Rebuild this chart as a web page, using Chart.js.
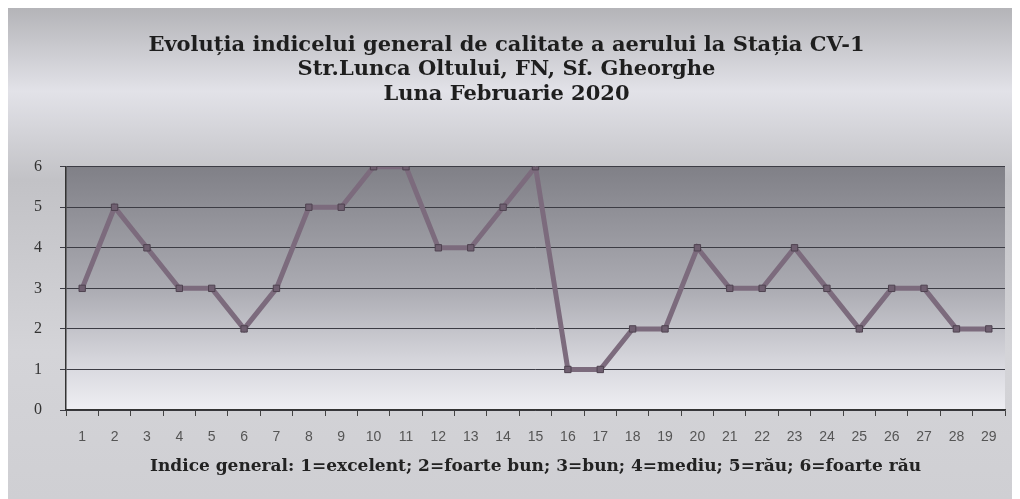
<!DOCTYPE html>
<html>
<head>
<meta charset="utf-8">
<script src="https://cdn.jsdelivr.net/npm/chart.js@4/dist/chart.umd.min.js"></script>
<style>
  body { margin: 0; background: #fff; }
  #wrap { width: 1020px; height: 499px; }
</style>
</head>
<body>
<div id="wrap"><canvas id="aerChart" width="1020" height="499"></canvas></div>
<script>
// Days of February 2020 and the general index
const days = ['1','2','3','4','5','6','7','8','9','10','11','12','13','14','15','16','17','18','19','20','21','22','23','24','25','26','27','28','29'];
const indexValues = [3, 5, 4, 3, 3, 2, 3, 5, 5, 6, 6, 4, 4, 5, 6, 1, 1, 2, 2, 4, 3, 3, 4, 3, 2, 3, 3, 2, 2];
const titleLines = [
    'Evoluția indicelui general de calitate a aerului la Stația CV-1',
    'Str.Lunca Oltului, FN, Sf. Gheorghe',
    'Luna Februarie 2020'
];
const axisTitle = 'Indice general: 1=excelent; 2=foarte bun; 3=bun; 4=mediu; 5=rău; 6=foarte rău';

// Gray gradients for the outer frame and the plot area (Excel style)
const backgroundPlugin = {
    id: 'bgGradients',
    beforeDraw(chart) {
        const { ctx, chartArea } = chart;
        ctx.save();
        const outer = ctx.createLinearGradient(0, 8, 0, 499);
        outer.addColorStop(0, '#b4b4b8');
        outer.addColorStop(0.17, '#e2e2e8');
        outer.addColorStop(0.35, '#c2c2c6');
        outer.addColorStop(0.7, '#d4d4d8');
        outer.addColorStop(1, '#cfcfd3');
        ctx.fillStyle = outer;
        ctx.fillRect(8, 8, 1004, 491);

        const inner = ctx.createLinearGradient(0, chartArea.top, 0, chartArea.bottom);
        inner.addColorStop(0, '#808087');
        inner.addColorStop(0.5, '#ababb2');
        inner.addColorStop(0.8, '#d6d6dc');
        inner.addColorStop(1, '#eeeef3');
        ctx.fillStyle = inner;
        ctx.fillRect(chartArea.left, chartArea.top, chartArea.right - chartArea.left, chartArea.bottom - chartArea.top);
        ctx.restore();
    }
};

const ctx = document.getElementById('aerChart').getContext('2d');

new Chart(ctx, {
    type: 'line',
    data: {
        labels: days,
        datasets: [{
            label: 'Indice general',
            data: indexValues,
            borderColor: '#7c6b7d',
            borderWidth: 5,
            pointStyle: 'rect',
            pointRadius: 4.5,
            pointBackgroundColor: '#6f5f70',
            pointBorderColor: '#4f4350',
            pointBorderWidth: 1,
            tension: 0
        }]
    },
    plugins: [backgroundPlugin],
    options: {
        responsive: false,
        animation: false,
        layout: {
            padding: { left: 8, right: 15, top: 8, bottom: 0 }
        },
        plugins: {
            legend: { display: false },
            tooltip: { enabled: false },
            title: {
                display: true,
                text: titleLines,
                color: '#1e1e1e',
                font: { family: 'DejaVu Serif', size: 21, weight: 'bold', lineHeight: 1.17 },
                padding: { top: 25, bottom: 60 }
            }
        },
        scales: {
            x: {
                offset: true,
                grid: {
                    drawOnChartArea: false,
                    drawTicks: true,
                    tickLength: 6,
                    color: '#444',
                    offset: true
                },
                border: { display: true, color: '#333', width: 1.5 },
                ticks: {
                    color: '#555',
                    padding: 13,
                    maxRotation: 0,
                    autoSkip: false,
                    font: { family: 'Liberation Sans', size: 14 }
                },
                title: {
                    display: true,
                    text: axisTitle,
                    color: '#222',
                    font: { family: 'DejaVu Serif', size: 17, weight: 'bold' },
                    padding: { top: 0, bottom: 22 }
                },
                afterFit(scale) { scale.height = 89; }
            },
            y: {
                min: 0,
                max: 6,
                ticks: {
                    stepSize: 1,
                    color: '#333',
                    padding: 18,
                    font: { family: 'Liberation Serif', size: 16 }
                },
                grid: {
                    color: '#3c3c44',
                    lineWidth: 1,
                    tickLength: 6
                },
                border: { display: true, color: '#333', width: 1.5 },
                afterFit(scale) { scale.width = 58; }
            }
        }
    }
});
</script>
</body>
</html>
